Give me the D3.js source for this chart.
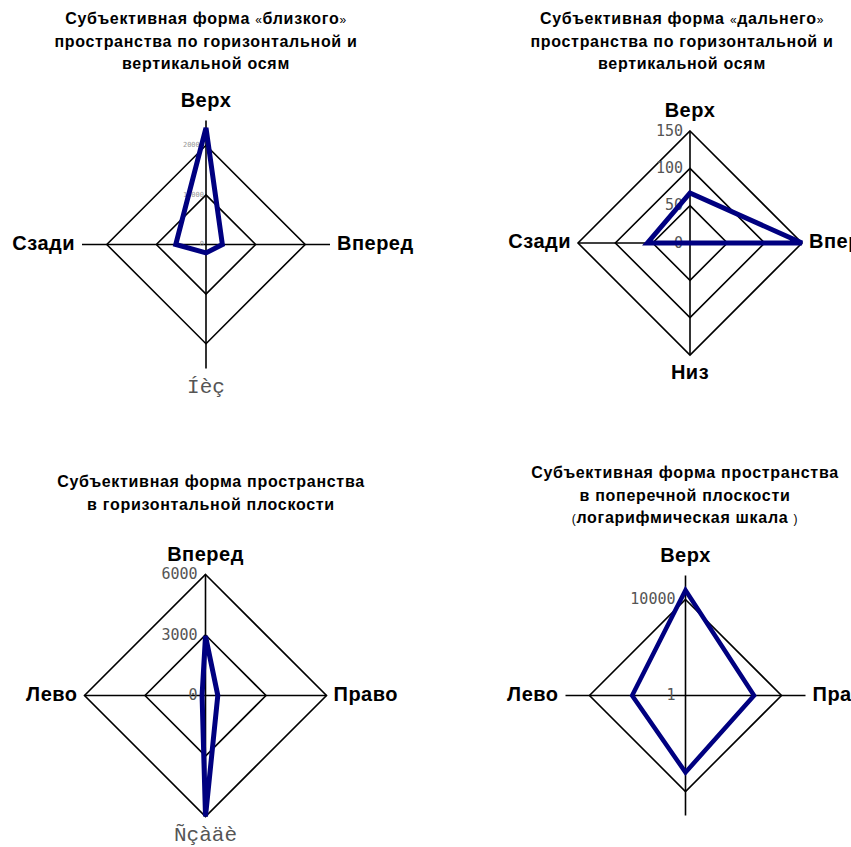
<html>
  <head>
    <meta charset="utf-8" />
    <script src="https://d3js.org/d3.v7.min.js"></script>
  </head>
  <style>
    body {
      margin: 0;
      background: #ffffff;
    }
    svg {
      width: 851px;
      height: 847px;
      font-family: "Liberation Sans", Arial, sans-serif;
    }
    .grid, .axis {
      fill: none;
      stroke: #000000;
      stroke-width: 1.6;
    }
    .series {
      fill: none;
      stroke: #000080;
      stroke-width: 5;
      stroke-linejoin: miter;
    }
    .title {
      font-size: 16px;
      font-weight: bold;
      letter-spacing: 0.7px;
      text-anchor: middle;
    }
    .cat {
      font-size: 20px;
      font-weight: bold;
      letter-spacing: 0.5px;
    }
    .cat.broken {
      font-family: "Liberation Mono", "Courier New", monospace;
      font-weight: normal;
      font-size: 21px;
      letter-spacing: 0;
      fill: #555555;
    }
    .tick {
      font-family: "DejaVu Sans Mono", monospace;
      font-size: 15px;
      fill: #555555;
      text-anchor: end;
      dominant-baseline: middle;
    }
  </style>
  <body>
    <svg></svg>
    <script>
      // данные четырёх диаграмм
      const axes1 = ["Верх", "Вперед", "Íèç", "Сзади"];
      const values1 = [23500, 3300, 1700, 6100];
      const ticks1 = [0, 10000, 20000];

      const axes2 = ["Верх", "Вперед", "Низ", "Сзади"];
      const values2 = [67, 150, 0, 57];
      const ticks2 = [0, 50, 100, 150];

      const axes3 = ["Вперед", "Право", "Ñçàäè", "Лево"];
      const values3 = [2950, 610, 6000, 170];
      const ticks3 = [0, 3000, 6000];

      const axes4 = ["Верх", "Право", "", "Лево"];
      const values4 = [24500, 720, 1600, 167];
      const ticks4 = [1, 10000];

      const brokenLabels = ["Íèç", "Ñçàäè"];

      const svg = d3.select("svg");

      function title(x, y, parts) {
        // parts: строки, каждая — список кусков [текст, тонкий?]
        const t = svg.append("text").attr("class", "title");
        parts.forEach((line, i) => {
          line.forEach((p, j) => {
            const ts = t.append("tspan").text(p[0]);
            if (j === 0) ts.attr("x", x).attr("y", y + i * 22.5);
            if (p[1]) ts.style("font-weight", "normal").style("font-size", "12px");
          });
        });
      }

      function radar(cfg) {
        const g = svg.append("g").attr("transform", `translate(${cfg.cx},${cfg.cy})`);
        const r = cfg.scale;
        const angle = (d, i) => (i * Math.PI) / 2;

        const ring = d3.lineRadial().angle(angle).radius((d) => r(d)).curve(d3.curveLinearClosed);

        // сетка
        cfg.ticks
          .filter((t) => r(t) > 0)
          .forEach((t) => {
            g.append("path").attr("class", "grid").attr("d", ring([t, t, t, t]));
          });

        // оси
        const ext = r.range()[1];
        g.append("line").attr("class", "axis").attr("x1", 0).attr("x2", 0).attr("y1", -ext).attr("y2", ext);
        g.append("line").attr("class", "axis").attr("x1", -ext).attr("x2", ext).attr("y1", 0).attr("y2", 0);

        // подписи шкалы
        g.selectAll("text.tick")
          .data(cfg.ticks)
          .enter()
          .append("text")
          .attr("class", "tick")
          .attr("x", -cfg.tickDx)
          .attr("y", (d) => -r(d))
          .style("font-size", cfg.tickSize + "px")
          .style("fill", cfg.tickColor)
          .text((d) => d);

        // ряд
        g.append("path")
          .attr("class", "series")
          .attr("d", ring(cfg.values))
          .style("stroke-width", cfg.lineWidth);

        // категории
        const pos = [
          [0, -ext - 19, "middle"],
          [ext + 7, 0, "start"],
          [0, ext + 19, "middle"],
          [-ext - 7, 0, "end"],
        ];
        cfg.axes.forEach((a, i) => {
          g.append("text")
            .attr("class", brokenLabels.includes(a) ? "cat broken" : "cat")
            .attr("x", pos[i][0])
            .attr("y", pos[i][1])
            .attr("text-anchor", pos[i][2])
            .attr("dominant-baseline", "middle")
            .text(a);
        });
      }

      title(206, 24, [
        [["Субъективная форма "], ["«", true], ["близкого"], ["»", true]],
        [["пространства по горизонтальной и"]],
        [["вертикальной осям"]],
      ]);
      title(682, 24, [
        [["Субъективная форма "], ["«", true], ["дальнего"], ["»", true]],
        [["пространства по горизонтальной и"]],
        [["вертикальной осям"]],
      ]);
      title(211, 487, [
        [["Субъективная форма пространства"]],
        [["в горизонтальной плоскости"]],
      ]);
      title(685, 478, [
        [["Субъективная форма пространства"]],
        [["в поперечной плоскости"]],
        [["(", true], ["логарифмическая шкала "], [")", true]],
      ]);

      radar({
        cx: 206, cy: 244.5,
        scale: d3.scaleLinear().domain([0, 25000]).range([0, 124]),
        ticks: ticks1, axes: axes1, values: values1,
        tickDx: 2, tickSize: 7, tickColor: "#999999", lineWidth: 5,
      });
      radar({
        cx: 690, cy: 243,
        scale: d3.scaleLinear().domain([0, 150]).range([0, 112]),
        ticks: ticks2, axes: axes2, values: values2,
        tickDx: 7, tickSize: 15, tickColor: "#555555", lineWidth: 5,
      });
      radar({
        cx: 205.5, cy: 695.5,
        scale: d3.scaleLinear().domain([0, 6000]).range([0, 121]),
        ticks: ticks3, axes: axes3, values: values3,
        tickDx: 8, tickSize: 15, tickColor: "#555555", lineWidth: 5,
      });
      radar({
        cx: 685.5, cy: 695.5,
        scale: d3.scaleLog().domain([1, 100000]).range([0, 120]),
        ticks: ticks4, axes: axes4, values: values4,
        tickDx: 10, tickSize: 15, tickColor: "#555555", lineWidth: 4.5,
      });
    </script>
  </body>
</html>
